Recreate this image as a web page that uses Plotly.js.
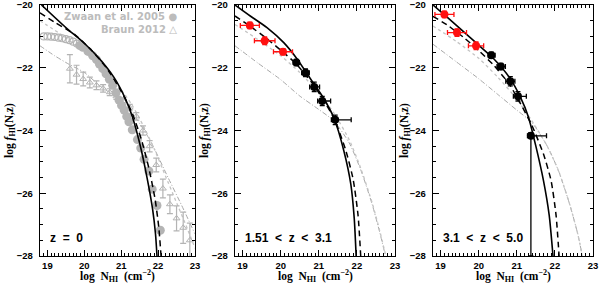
<!DOCTYPE html>
<html><head><meta charset="utf-8">
<script src="https://cdn.plot.ly/plotly-3.0.1.min.js"></script>
<style>html,body{margin:0;padding:0;background:#fff}#plot{width:600px;height:283px}</style>
</head><body><div id="plot"></div>
<script>
// ---------- axes ----------
const X_TICKS = [19, 20, 21, 22, 23];
const Y_TICKS = [-28, -26, -24, -22, -20];

// ---------- panel 1 (z = 0) ----------
const zw_open_x = [18.9, 19.0, 19.1, 19.2, 19.3, 19.4, 19.5, 19.6, 19.7, 19.8];
const zw_open_y = [-21.0, -21.0, -21.01, -21.02, -21.04, -21.06, -21.09, -21.12, -21.17, -21.23];
const zw_x = [19.88, 19.96, 20.1, 20.23, 20.33, 20.41, 20.5, 20.59, 20.68, 20.77, 20.86, 20.94, 21.01, 21.08, 21.15, 21.21, 21.3, 21.44, 21.53, 21.62, 21.75, 21.84, 21.97, 22.06];
const zw_y = [-21.29, -21.35, -21.48, -21.62, -21.74, -21.88, -22.03, -22.19, -22.37, -22.56, -22.8, -23.03, -23.2, -23.35, -23.55, -23.72, -23.98, -24.29, -24.56, -24.92, -25.29, -25.87, -26.39, -27.18];
const br_x = [19.61, 19.79, 19.97, 20.15, 20.33, 20.51, 20.69, 20.87, 21.05, 21.23, 21.41, 21.59, 21.77, 21.95, 22.13, 22.32, 22.5, 22.68, 22.86];
const br_y = [-22.03, -22.22, -22.36, -22.47, -22.56, -22.66, -22.78, -22.91, -23.06, -23.27, -23.55, -24.0, -24.5, -25.1, -25.85, -26.35, -26.8, -27.1, -27.5];
const br_err = [0.45, 0.3, 0.22, 0.17, 0.14, 0.12, 0.11, 0.1, 0.1, 0.1, 0.12, 0.15, 0.18, 0.22, 0.3, 0.3, 0.4, 0.5, 0.55];
const p1_solid_x = [18.84, 19.5, 20.0, 20.4, 20.8, 21.1, 21.3, 21.5, 21.7, 21.85, 21.93, 21.97];
const p1_solid_y = [-20.0, -20.72, -21.22, -21.7, -22.3, -22.95, -23.55, -24.4, -25.5, -26.5, -27.3, -28.0];
const p1_dash_x = [18.8, 19.2, 19.75, 20.2, 20.6, 21.0, 21.3, 21.55, 21.75, 21.92, 22.02, 22.08];
const p1_dash_y = [-20.25, -20.55, -20.95, -21.45, -22.0, -22.75, -23.45, -24.3, -25.2, -26.2, -27.1, -28.0];
const p1_dot_x = [18.8, 19.42, 20.0, 20.5, 21.0, 21.3, 21.6, 21.9, 22.2, 22.5, 22.8, 23.0];
const p1_dot_y = [-20.5, -20.98, -21.5, -22.05, -22.7, -23.2, -23.85, -24.6, -25.45, -26.3, -27.15, -27.75];
const p1_dd_x = [18.8, 19.2, 19.6, 20.0, 20.45, 21.0, 21.4, 21.8, 22.27, 22.64, 23.0];
const p1_dd_y = [-21.3, -21.62, -21.9, -22.15, -22.6, -23.05, -23.6, -24.35, -25.5, -26.39, -27.3];

// ---------- panel 2 (1.51 < z < 3.1) ----------
const p2_red_x = [19.19, 19.58, 20.06];
const p2_red_y = [-20.65, -21.14, -21.49];
const p2_red_ex = [0.25, 0.27, 0.25];
const p2_red_ey = [0.1, 0.12, 0.1];
const p2_blk_x = [20.41, 20.65, 20.88, 21.09, 21.43];
const p2_blk_y = [-21.83, -22.16, -22.61, -23.06, -23.66];
const p2_blk_exm = [0.08, 0.1, 0.12, 0.12, 0.1];
const p2_blk_exp = [0.08, 0.1, 0.14, 0.22, 0.42];
const p2_blk_ey = [0.1, 0.12, 0.15, 0.15, 0.15];
const p2_solid_x = [18.8, 19.2, 19.64, 20.08, 20.43, 20.78, 21.13, 21.4, 21.66, 21.84, 21.93, 21.98];
const p2_solid_y = [-20.0, -20.35, -20.72, -21.2, -21.72, -22.35, -22.98, -23.61, -24.66, -25.71, -26.8, -28.0];
const p2_dash_x = [18.8, 19.2, 19.6, 20.0, 20.4, 20.8, 21.1, 21.4, 21.7, 21.9, 22.03, 22.1];
const p2_dash_y = [-20.35, -20.68, -21.04, -21.44, -21.87, -22.45, -22.98, -23.62, -24.6, -25.55, -26.7, -28.0];
const p2_dot_x = [18.8, 19.4, 20.0, 20.5, 21.0, 21.4, 21.8, 22.1, 22.4, 22.6, 22.76];
const p2_dot_y = [-20.62, -21.1, -21.62, -22.15, -22.8, -23.45, -24.3, -25.2, -26.3, -27.2, -28.0];
const p2_dd_x = [18.8, 19.4, 20.0, 20.5, 21.0, 21.4, 21.8, 22.1, 22.4, 22.6, 22.75];
const p2_dd_y = [-21.3, -21.85, -22.38, -22.9, -23.33, -23.7, -24.4, -25.25, -26.35, -27.25, -28.0];

// ---------- panel 3 (3.1 < z < 5.0) ----------
const p3_red_x = [19.1, 19.43, 19.93];
const p3_red_y = [-20.3, -20.88, -21.3];
const p3_red_ex = [0.25, 0.25, 0.2];
const p3_red_ey = [0.1, 0.12, 0.12];
const p3_blk_x = [20.33, 20.58, 20.83, 21.03, 21.37];
const p3_blk_y = [-21.6, -21.96, -22.43, -22.91, -24.17];
const p3_blk_exm = [0.08, 0.1, 0.12, 0.12, 0.09];
const p3_blk_exp = [0.1, 0.12, 0.12, 0.22, 0.41];
const p3_blk_eyp = [0.1, 0.1, 0.15, 0.15, 0.1];
const p3_blk_eym = [0.1, 0.1, 0.15, 0.15, 3.83];
const p3_solid_x = [18.8, 19.2, 19.6, 20.0, 20.4, 20.8, 21.1, 21.3, 21.5, 21.7, 21.85, 21.95];
const p3_solid_y = [-20.0, -20.42, -20.85, -21.28, -21.72, -22.3, -22.95, -23.55, -24.5, -25.6, -26.7, -28.0];
const p3_dash_x = [18.8, 19.2, 19.6, 20.0, 20.4, 20.8, 21.1, 21.4, 21.7, 21.9, 22.03, 22.11];
const p3_dash_y = [-20.36, -20.66, -21.03, -21.45, -21.93, -22.52, -23.15, -23.85, -24.75, -25.6, -26.7, -28.0];
const p3_dot_x = [18.8, 19.4, 20.0, 20.5, 21.0, 21.4, 21.8, 22.1, 22.4, 22.6, 22.72];
const p3_dot_y = [-20.67, -21.15, -21.7, -22.3, -23.0, -23.7, -24.5, -25.3, -26.4, -27.3, -28.0];
const p3_dd_x = [18.8, 19.4, 20.0, 20.5, 21.0, 21.4, 21.8, 22.1, 22.4, 22.6, 22.72];
const p3_dd_y = [-21.25, -21.8, -22.35, -22.85, -23.35, -23.75, -24.5, -25.3, -26.4, -27.3, -28.0];

// ---------- labels ----------
const panel_labels = ['z\u00a0\u00a0=\u00a0\u00a00', '1.51\u00a0\u00a0<\u00a0\u00a0z\u00a0\u00a0<\u00a0\u00a03.1', '3.1\u00a0\u00a0<\u00a0\u00a0z\u00a0\u00a0<\u00a0\u00a05.0'];
const legend_labels = ['Zwaan et al. 2005 \u25cf', 'Braun 2012 \u25b3'];
const x_title = 'log\u00a0\u00a0N<sub>HI</sub>\u00a0\u00a0(cm<sup>\u22122</sup>)';
const y_title = 'log <i>f</i><sub>HI</sub>(N,z)';

// ---------- styles ----------
const GRAY = '#a8a8a8', LGRAY = '#c4c4c4', RED = '#ff1010';
const tickFont = {family: 'Liberation Sans, Arial, sans-serif', size: 9.5, color: '#000', weight: 'bold'};

function line(x, y, n, color, dash, width) {
  return {x, y, xaxis: 'x' + n, yaxis: 'y' + n, type: 'scatter', mode: 'lines',
    line: {color, dash, width, shape: 'spline', smoothing: 0.6}, hoverinfo: 'skip', showlegend: false};
}
function pts(x, y, n, color, size, exm, exp, eym, eyp, sym) {
  return {x, y, xaxis: 'x' + n, yaxis: 'y' + n, type: 'scatter', mode: 'markers',
    marker: {color, size, symbol: sym || 'circle', line: {width: 0}},
    error_x: {type: 'data', symmetric: false, array: exp, arrayminus: exm, color, thickness: 1.3, width: 2.5},
    error_y: {type: 'data', symmetric: false, array: eyp, arrayminus: eym, color, thickness: 1.3, width: 2.5},
    showlegend: false, cliponaxis: true};
}

const ZW = '#b4b4b4';
const traces = [
  // panel 1
  line(p1_dd_x, p1_dd_y, 1, GRAY, '5px,2px,1px,2px', 1),
  line(p1_dot_x, p1_dot_y, 1, LGRAY, 'dot', 1.3),
  {x: br_x, y: br_y, xaxis: 'x1', yaxis: 'y1', type: 'scatter', mode: 'markers',
   marker: {symbol: 'triangle-up-open', size: 6, color: ZW, line: {width: 1, color: ZW}},
   error_y: {type: 'data', array: br_err, color: ZW, thickness: 1.2, width: 3}, showlegend: false},
  {x: zw_open_x, y: zw_open_y, xaxis: 'x1', yaxis: 'y1', type: 'scatter', mode: 'markers',
   marker: {symbol: 'circle-open', size: 7, color: ZW, line: {width: 1.2, color: ZW}}, showlegend: false},
  {x: zw_x, y: zw_y, xaxis: 'x1', yaxis: 'y1', type: 'scatter', mode: 'markers',
   marker: {symbol: 'circle', size: 9, color: ZW, line: {width: 0}}, showlegend: false},
  line(p1_dash_x, p1_dash_y, 1, '#000', '6px,4px', 1.5),
  line(p1_solid_x, p1_solid_y, 1, '#000', 'solid', 1.6),
  // panel 2
  line(p2_dd_x, p2_dd_y, 2, GRAY, '5px,2px,1px,2px', 1),
  line(p2_dot_x, p2_dot_y, 2, LGRAY, 'dot', 1.3),
  line(p2_dash_x, p2_dash_y, 2, '#000', '6px,4px', 1.5),
  line(p2_solid_x, p2_solid_y, 2, '#000', 'solid', 1.6),
  pts(p2_red_x, p2_red_y, 2, RED, 8, p2_red_ex, p2_red_ex, p2_red_ey, p2_red_ey),
  pts(p2_blk_x, p2_blk_y, 2, '#000', 8, p2_blk_exm, p2_blk_exp, p2_blk_ey, p2_blk_ey),
  // panel 3
  line(p3_dd_x, p3_dd_y, 3, GRAY, '5px,2px,1px,2px', 1),
  line(p3_dot_x, p3_dot_y, 3, LGRAY, 'dot', 1.3),
  line(p3_dash_x, p3_dash_y, 3, '#000', '6px,4px', 1.5),
  line(p3_solid_x, p3_solid_y, 3, '#000', 'solid', 1.6),
  pts(p3_red_x, p3_red_y, 3, RED, 8, p3_red_ex, p3_red_ex, p3_red_ey, p3_red_ey),
  pts(p3_blk_x, p3_blk_y, 3, '#000', 8, p3_blk_exm, p3_blk_exp, p3_blk_eym, p3_blk_eyp)
];

function xax(domain, n) {
  return {domain, anchor: 'y' + n, range: [18.8, 23.0], tickvals: X_TICKS, ticktext: X_TICKS.map(String),
    ticks: 'inside', ticklen: 6, tickwidth: 1, tickcolor: '#000', mirror: 'allticks', showline: true,
    linecolor: '#000', linewidth: 1.2, showgrid: false, zeroline: false, tickfont: tickFont,
    ticklabeloverflow: 'allow', ticklabelstandoff: 0,
    minor: {dtick: 0.1, tick0: 19, ticks: 'inside', ticklen: 3, tickcolor: '#000', tickwidth: 1, showgrid: false}};
}
function yax(n) {
  return {domain: [1 - 256 / 283, 1 - 5 / 283], anchor: 'x' + n, range: [-28, -20], tickvals: Y_TICKS,
    ticks: 'inside', ticklen: 6, tickwidth: 1, tickcolor: '#000', mirror: 'allticks', showline: true,
    linecolor: '#000', linewidth: 1.2, showgrid: false, zeroline: false, tickfont: tickFont,
    ticklabelstandoff: 4, ticklabeloverflow: 'allow',
    minor: {dtick: 0.5, tick0: -20, ticks: 'inside', ticklen: 3, tickcolor: '#000', tickwidth: 1, showgrid: false}};
}

const px = v => v / 600, py = v => 1 - v / 283;
const titleFont = {family: 'Liberation Serif, Times New Roman, serif', size: 11.5, color: '#000', weight: 'bold'};
const labFont = {family: 'Liberation Sans, Arial, sans-serif', size: 12, color: '#000', weight: 'bold'};
const legFont = {family: 'DejaVu Sans, sans-serif', size: 10, color: '#bcbcbc', weight: 'bold'};
const ann = [];
[117.5, 315, 513].forEach(c => ann.push({xref: 'paper', yref: 'paper', x: px(c), y: py(276), text: x_title,
  showarrow: false, font: titleFont, xanchor: 'center', yanchor: 'middle'}));
[10, 205, 405].forEach(c => ann.push({xref: 'paper', yref: 'paper', x: px(c), y: py(131), text: y_title,
  showarrow: false, font: titleFont, textangle: -90, xanchor: 'center', yanchor: 'middle'}));
[[48, 0], [243, 1], [441, 2]].forEach(([c, i]) => ann.push({xref: 'paper', yref: 'paper', x: px(c), y: py(238),
  text: panel_labels[i], showarrow: false, font: labFont, xanchor: 'left', yanchor: 'middle'}));
ann.push({xref: 'paper', yref: 'paper', x: px(179), y: py(17), text: legend_labels[0], showarrow: false,
  font: legFont, xanchor: 'right', yanchor: 'middle'});
ann.push({xref: 'paper', yref: 'paper', x: px(179), y: py(30), text: legend_labels[1], showarrow: false,
  font: legFont, xanchor: 'right', yanchor: 'middle'});

const layout = {
  width: 600, height: 283, margin: {l: 0, r: 0, t: 0, b: 0},
  paper_bgcolor: '#fff', plot_bgcolor: '#fff', showlegend: false,
  xaxis1: xax([40 / 600, 195 / 600], 1), yaxis1: yax(1),
  xaxis2: xax([235 / 600, 395 / 600], 2), yaxis2: yax(2),
  xaxis3: xax([433 / 600, 593 / 600], 3), yaxis3: yax(3),
  annotations: ann
};
Plotly.newPlot('plot', traces, layout, {staticPlot: true, displayModeBar: false});
</script></body></html>
